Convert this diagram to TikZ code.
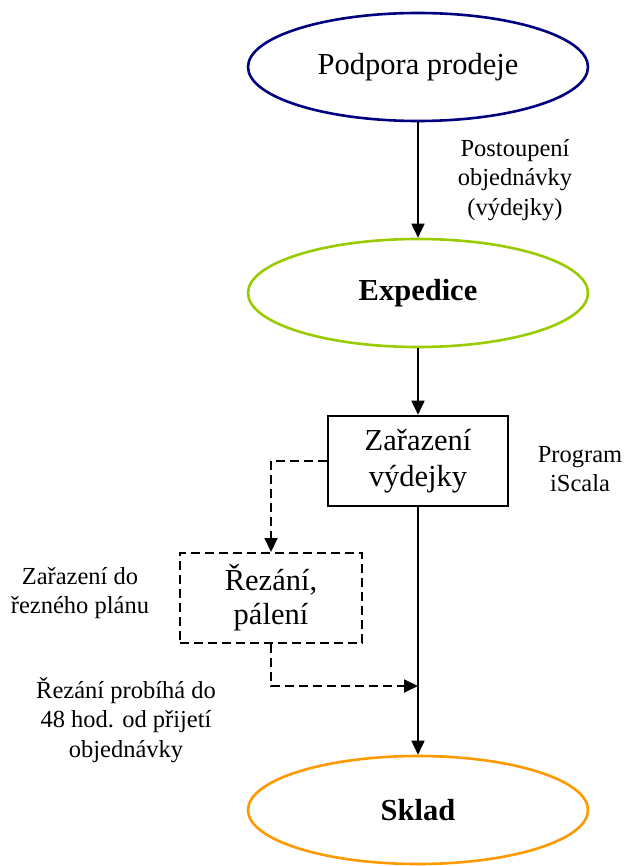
\documentclass[tikz,border=0pt]{standalone}
\usepackage{fontspec}
\setmainfont{Liberation Serif}
\usetikzlibrary{shapes.geometric,arrows.meta}
\definecolor{navyc}{RGB}{0,0,128}
\definecolor{greenc}{RGB}{153,204,0}
\definecolor{orangec}{RGB}{255,153,0}
\begin{document}
\begin{tikzpicture}[x=1pt,y=-1pt,
  ell/.style={ellipse,draw,line width=2.6pt,minimum width=340pt,minimum height=108pt,inner sep=0pt,font=\fontsize{30.5}{35}\selectfont},
  procbox/.style={rectangle,draw,line width=2.6pt,minimum width=180pt,minimum height=90pt,align=center,inner sep=2pt,font=\fontsize{30.5}{36}\selectfont},
  dbox/.style={rectangle,draw,line width=2pt,dash pattern=on 9pt off 5pt,minimum width=182pt,minimum height=90pt,align=center,inner sep=2pt,font=\fontsize{30.5}{34}\selectfont},
  lbl/.style={align=center,inner sep=0pt,font=\fontsize{24.5}{29.5}\selectfont},
  arr/.style={line width=1.7pt,-{Triangle[length=14pt,width=13pt]}},
  darr/.style={line width=1.8pt,dash pattern=on 9pt off 5pt,-{Triangle[length=14pt,width=13pt]}}]
\useasboundingbox (0,0) rectangle (624,866);
\node[ell,draw=navyc] (pp) at (418,67) {Podpora prodeje};
\node[ell,draw=greenc,font=\fontsize{30.5}{35}\selectfont\bfseries] (ex) at (418,293) {Expedice};
\node[procbox] (zv) at (418,461) {Zařazení\\výdejky};
\node[dbox] (rz) at (271,598) {Řezání,\\pálení};
\node[ell,draw=orangec,font=\fontsize{30.5}{35}\selectfont\bfseries] (sk) at (418,810) {Sklad};
\coordinate (m) at (418,686);
\node[lbl] (l1) at (515,180) {Postoupení\\objednávky\\(výdejky)};
\node[lbl] (l2) at (580,469) {Program\\iScala};
\node[lbl] (l3) at (80,593) {Zařazení do\\řezného plánu};
\node[lbl] (l4) at (126,720) {Řezání probíhá do\\48 hod. od přijetí\\objednávky};
\draw[arr] (pp) -- (ex);
\draw[arr] (ex) -- (zv);
\draw[arr] (zv) -- (sk);
\draw[darr] (zv.west) -| (rz.north);
\draw[darr] (rz.south) |- (m);
\end{tikzpicture}
\end{document}
